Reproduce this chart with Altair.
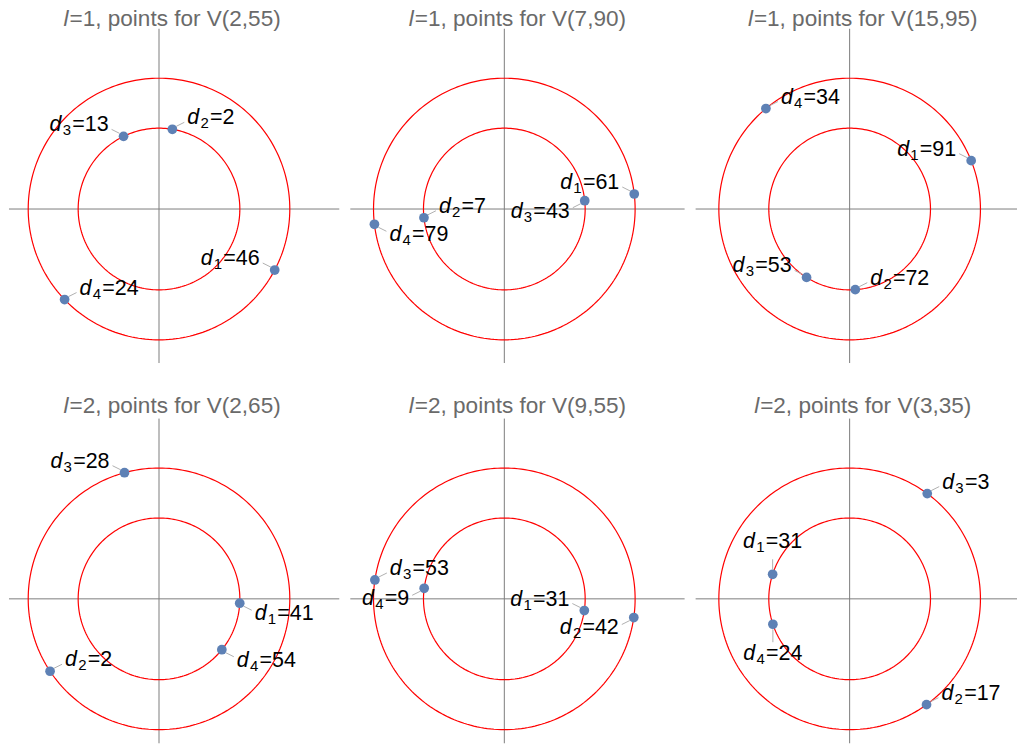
import math
import numpy as np
import pandas as pd
import altair as alt

# ---------------- data ----------------
L_VALUES = [1, 1, 1, 2, 2, 2]
V_ARGS = ["2,55", "7,90", "15,95", "2,65", "9,55", "3,35"]
D_VALUES = [
    [46, 2, 13, 24],
    [61, 7, 43, 79],
    [91, 72, 53, 34],
    [41, 2, 28, 54],
    [31, 42, 53, 9],
    [31, 17, 3, 24],
]
RINGS = [
    [2, 1, 1, 2],
    [2, 1, 1, 2],
    [2, 1, 1, 2],
    [1, 2, 2, 1],
    [1, 2, 2, 1],
    [1, 2, 2, 1],
]
ANGLES_DEG = [
    [-27.8, 80.5, 116.0, -136.2],
    [6.6, 186.2, 5.9, 186.7],
    [21.7, -86.0, -122.2, 129.8],
    [-3.1, -146.4, 105.3, -39.0],
    [-8.3, -8.2, 171.7, 172.5],
    [162.3, -54.0, 53.6, 198.3],
]
LABEL_SIDE = [
    ["l", "r", "l", "r"],
    ["l", "r", "lb", "rb"],
    ["l", "r", "l", "r"],
    ["rb", "r", "l", "rb"],
    ["l", "lb", "r", "lb"],
    ["t", "r", "r", "b"],
]
RING_RADII = [1.0, 1.618]
AXIS_EXTENT = [-1.905, 2.23]

# ---------------- layout / style ----------------
PX = 81.0                                   # pixels per data unit
COLS = [(-1.8556, 331), (-1.905, 335), (-1.905, 322)]   # (x-domain min, width)
ROWS = [(2.4654, 354), (2.6827, 362)]                    # (y-domain max, height)
TITLE_BASE = [2.262, 2.305]
FONT = "Liberation Sans"
MAIN_FS, SUB_FS, TITLE_FS = 21.5, 15, 22.6
POINT_COLOR = "#5e81b5"

CW = {' ': .278, ',': .278, '(': .333, ')': .333, '=': .584, 'p': .556, 'o': .556,
      'i': .222, 'n': .556, 't': .278, 's': .5, 'f': .278, 'r': .333, 'V': .667,
      'l': .222, 'd': .556}


def tw(s, fs):
    return sum(CW.get(c, 0.556) for c in s) * fs


SIDE = {  # label start rule and baseline offset (px, screen y down)
    "r": ("right", -5), "l": ("left", -5), "rb": ("right", 17),
    "lb": ("left", 17), "t": ("center", -26), "b": ("center", 36),
}
CONN = {
    "r": (4, -3, 12, -7), "l": (-4, -3, -12, -7), "rb": (4, 3, 12, 7),
    "lb": (-4, 3, -12, 7), "t": (0, -5, 0, -15), "b": (0, 5, 0, 18),
}

theta = np.linspace(0, 2 * np.pi, 241)


def panel(i):
    col, row = i % 3, i // 3
    xmin, w = COLS[col]
    xmax = xmin + w / PX
    ytop, h = ROWS[row]
    ymin = ytop - h / PX
    xs = alt.Scale(domain=[xmin, xmax], nice=False, zero=False)
    ys = alt.Scale(domain=[ymin, ytop], nice=False, zero=False)
    X = lambda: alt.X("x:Q", scale=xs, axis=None)
    Y = lambda: alt.Y("y:Q", scale=ys, axis=None)

    axes_df = pd.DataFrame([
        {"x": max(AXIS_EXTENT[0], xmin), "x2": min(AXIS_EXTENT[1], xmax), "y": 0.0, "y2": 0.0},
        {"x": 0.0, "x2": 0.0, "y": max(AXIS_EXTENT[0], ymin), "y2": min(AXIS_EXTENT[1], ytop)},
    ])
    axes = alt.Chart(axes_df).mark_rule(color="#7c7c7c", strokeWidth=1).encode(
        x=X(), x2="x2:Q", y=Y(), y2="y2:Q")

    circ_rows = []
    for k, r in enumerate(RING_RADII):
        for j, t in enumerate(theta):
            circ_rows.append({"ring": k, "k": j, "x": r * math.cos(t), "y": r * math.sin(t)})
    circles = alt.Chart(pd.DataFrame(circ_rows)).mark_line(
        color="#ff0000", strokeWidth=1.2).encode(
        x=X(), y=Y(), detail="ring:N", order="k:Q")

    pts, conns, texts = [], [], []
    for j in range(4):
        r = RING_RADII[RINGS[i][j] - 1]
        a = math.radians(ANGLES_DEG[i][j])
        x0, y0 = r * math.cos(a), r * math.sin(a)
        pts.append({"x": x0, "y": y0})
        side = LABEL_SIDE[i][j]
        c = CONN[side]
        conns.append({"x": x0 + c[0] / PX, "y": y0 - c[1] / PX,
                      "x2": x0 + c[2] / PX, "y2": y0 - c[3] / PX})
        sub = str(j + 1)
        rest = "=" + str(D_VALUES[i][j])
        w_d = tw("d", MAIN_FS) + 1.2
        w_s = tw(sub, SUB_FS) + 1.2
        w_r = tw(rest, MAIN_FS)
        total = w_d + w_s + w_r
        mode, base = SIDE[side]
        start = 15 if mode == "right" else (-15 - total if mode == "left" else -total / 2)
        texts.append({"part": "d", "text": "d", "x": x0 + start / PX, "y": y0 - base / PX})
        texts.append({"part": "sub", "text": sub, "x": x0 + (start + w_d) / PX,
                      "y": y0 - (base + 4) / PX})
        texts.append({"part": "rest", "text": rest, "x": x0 + (start + w_d + w_s) / PX,
                      "y": y0 - base / PX})

    conn_layer = alt.Chart(pd.DataFrame(conns)).mark_rule(
        color="#b0b0b0", strokeWidth=1).encode(x=X(), y=Y(), x2="x2:Q", y2="y2:Q")
    points = alt.Chart(pd.DataFrame(pts)).mark_circle(
        size=95, color=POINT_COLOR, opacity=1).encode(x=X(), y=Y())

    tdf = pd.DataFrame(texts)
    d_layer = alt.Chart(tdf[tdf.part == "d"]).mark_text(
        align="left", baseline="alphabetic", font=FONT, fontSize=MAIN_FS,
        fontStyle="italic", color="black").encode(x=X(), y=Y(), text="text:N")
    s_layer = alt.Chart(tdf[tdf.part == "sub"]).mark_text(
        align="left", baseline="alphabetic", font=FONT, fontSize=SUB_FS,
        color="black").encode(x=X(), y=Y(), text="text:N")
    r_layer = alt.Chart(tdf[tdf.part == "rest"]).mark_text(
        align="left", baseline="alphabetic", font=FONT, fontSize=MAIN_FS,
        color="black").encode(x=X(), y=Y(), text="text:N")

    # title: italic l + rest
    t_rest = "=" + str(L_VALUES[i]) + ", points for V(" + V_ARGS[i] + ")"
    w_l = tw("l", TITLE_FS) + 1.0
    t_total = w_l + tw(t_rest, TITLE_FS)
    cx = (AXIS_EXTENT[0] + AXIS_EXTENT[1]) / 2
    t0 = cx - t_total / 2 / PX
    title_df = pd.DataFrame([
        {"part": "l", "text": "l", "x": t0, "y": TITLE_BASE[row]},
        {"part": "rest", "text": t_rest, "x": t0 + w_l / PX, "y": TITLE_BASE[row]},
    ])
    tl = alt.Chart(title_df[title_df.part == "l"]).mark_text(
        align="left", baseline="alphabetic", font=FONT, fontSize=TITLE_FS,
        fontStyle="italic", color="#6a6a6a").encode(x=X(), y=Y(), text="text:N")
    tr = alt.Chart(title_df[title_df.part == "rest"]).mark_text(
        align="left", baseline="alphabetic", font=FONT, fontSize=TITLE_FS,
        color="#6a6a6a").encode(x=X(), y=Y(), text="text:N")

    return alt.layer(axes, circles, conn_layer, points, d_layer, s_layer, r_layer,
                     tl, tr).properties(width=w, height=h)


rows = []
for rr in range(2):
    rows.append(alt.hconcat(*[panel(rr * 3 + c) for c in range(3)], spacing=11,
                            bounds="flush").resolve_scale(x="independent", y="independent"))

chart = alt.vconcat(*rows, spacing=18).resolve_scale(
    x="independent", y="independent").properties(
    padding={"top": -1, "left": 0, "right": 0, "bottom": 0},
    background="white",
).configure_view(strokeWidth=0)

chart.save("out.html", embed_options={"renderer": "svg", "actions": False})
